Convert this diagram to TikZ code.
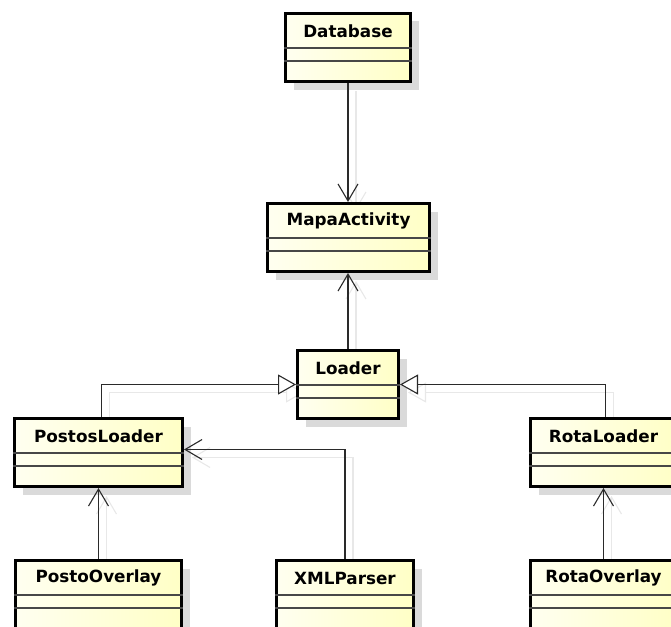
\documentclass[tikz,border=0pt]{standalone}
\usepackage{fontspec}
\setmainfont{DejaVu Sans}
\usetikzlibrary{arrows.meta,shadows,backgrounds,calc}

\definecolor{fillL}{HTML}{FFFFF0}
\definecolor{fillR}{HTML}{FFFFC6}
\definecolor{edge}{HTML}{2A2A2A}
\definecolor{sep}{HTML}{474747}
\definecolor{shade}{HTML}{DADADA}
\definecolor{lineshade}{HTML}{E8E8E8}

\tikzset{
  classbox/.style={rectangle, draw=black, line width=3pt, inner sep=0pt,
    left color=fillL, right color=fillR, anchor=north west,
    drop shadow={shadow xshift=8pt, shadow yshift=-8pt, fill=shade, opacity=1}},
  classname/.style={font=\bfseries\fontsize{16.8}{19}\selectfont, inner sep=0pt},
  compline/.style={draw=sep, line width=1.5pt},
  link/.style={draw=edge, line width=1.1pt},
  assoc/.style={link, -{Straight Barb[length=17pt, width=20pt, line width=1.1pt]}},
  generalize/.style={link, -{Triangle[length=18pt, width=20pt, fill=white, line width=1.1pt]}},
  ghost/.style={draw=lineshade, transform canvas={shift={(8pt,-8pt)}}},
}

% one UML class: name, label, left, top, width (all in px, y downwards)
\newcommand{\umlclass}[5]{%
  \node[classbox, minimum width=#5pt, minimum height=68pt] (#1) at (#3,#4) {};
  \draw[compline] ($(#1.north west)+(0,-36pt)$) -- ($(#1.north east)+(0,-36pt)$);
  \draw[compline] ($(#1.north west)+(0,-49pt)$) -- ($(#1.north east)+(0,-49pt)$);
  \node[classname] (#1-name) at ($(#1.north)+(0,-19pt)$) {#2};
}

% the connectors, drawn once as a pale offset copy and once in ink
\newcommand{\classlinks}[1]{%
  \draw[assoc,#1] (db.south) -- (db.south |- mapa.north);
  \draw[assoc,#1] (loader.north) -- (loader.north |- mapa.south);
  \draw[generalize,#1] ([xshift=3pt]postos.north) |- (loader.west);
  \draw[generalize,#1] ([xshift=2pt]rota.north) |- (loader.east);
  \draw[assoc,#1] (posto.north) -- (posto.north |- postos.south);
  \draw[assoc,#1] (xml.north) |- ([yshift=3pt]postos.east);
  \draw[assoc,#1] (rotao.north) -- (rotao.north |- rota.south);
}

\begin{document}
\begin{tikzpicture}[x=1pt, y=-1pt]
  \useasboundingbox (0,0) rectangle (671,626);
  \clip (0,0) rectangle (671,626);

  \umlclass{db}{Database}{284}{12}{125}
  \umlclass{mapa}{MapaActivity}{266}{202}{162}
  \umlclass{loader}{Loader}{296}{349}{101}
  \umlclass{postos}{PostosLoader}{13}{417}{168}
  \umlclass{rota}{RotaLoader}{529}{417}{146}
  \umlclass{posto}{PostoOverlay}{14}{559}{166}
  \umlclass{xml}{XMLParser}{275}{559}{137}
  \umlclass{rotao}{RotaOverlay}{529}{559}{146}

  \begin{scope}[on background layer]
    \classlinks{ghost}
  \end{scope}
  \classlinks{}
\end{tikzpicture}
\end{document}
